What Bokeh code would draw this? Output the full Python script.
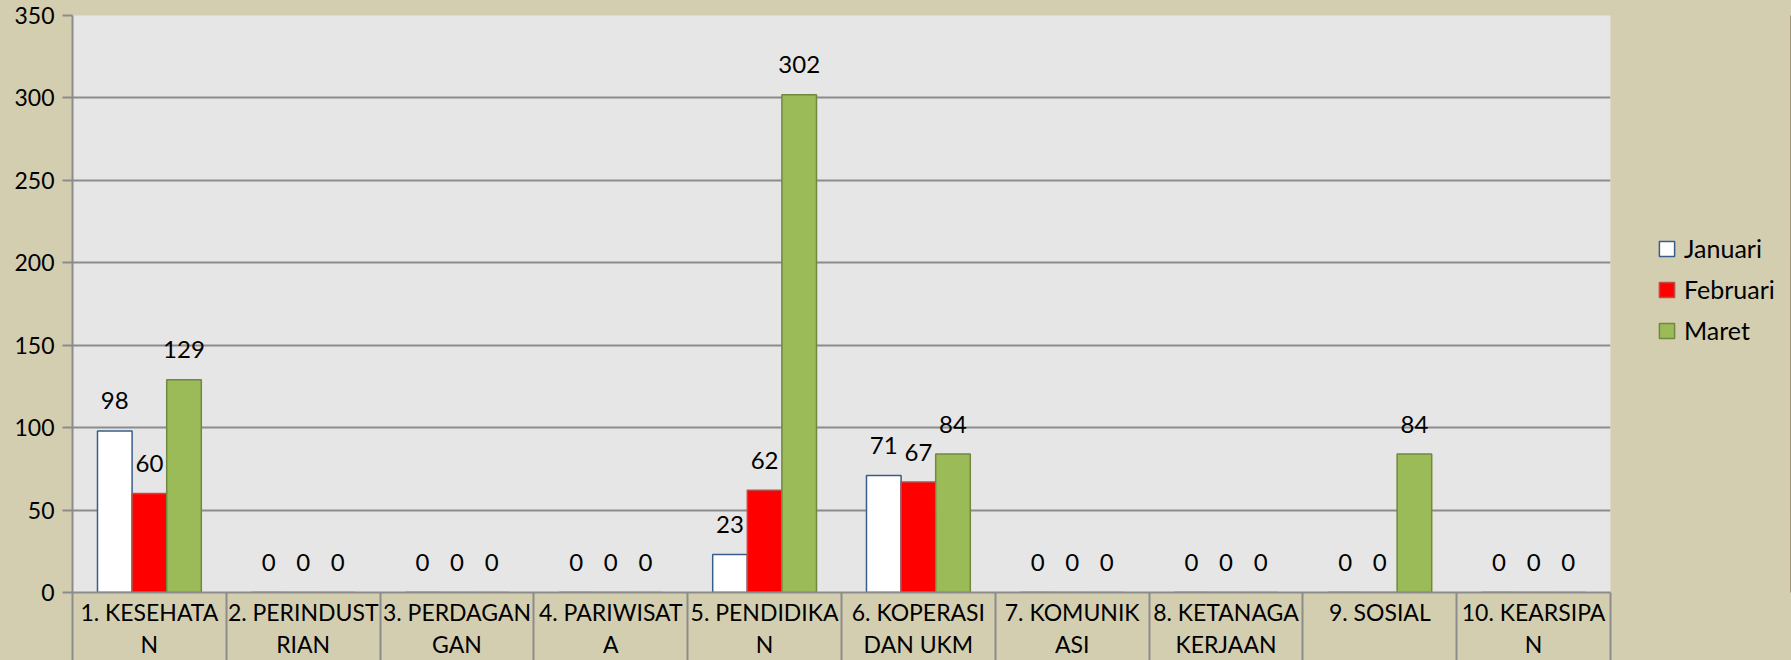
from bokeh.plotting import figure
from bokeh.models import FixedTicker, Legend, LegendItem, Range1d, ColumnDataSource
from bokeh.layouts import row
from bokeh.core.properties import value
from bokeh.embed import file_html
from bokeh.resources import INLINE

# ---- data ----
categories = ["1. KESEHATA\nN", "2. PERINDUST\nRIAN", "3. PERDAGAN\nGAN", "4. PARIWISAT\nA",
              "5. PENDIDIKA\nN", "6. KOPERASI\nDAN UKM", "7. KOMUNIK\nASI", "8. KETANAGA\nKERJAAN",
              "9. SOSIAL", "10. KEARSIPA\nN"]
series_names = ["Januari", "Februari", "Maret"]
januari = [98, 0, 0, 0, 23, 71, 0, 0, 0, 0]
februari = [60, 0, 0, 0, 62, 67, 0, 0, 0, 0]
maret = [129, 0, 0, 0, 302, 84, 0, 0, 84, 0]
y_ticks = [0, 50, 100, 150, 200, 250, 300, 350]

FONT = "Lato"
TAN = "#d4ceb1"
GRID = "#8c8c8c"

p = figure(width=1612, height=660, output_backend="svg", toolbar_location=None,
           x_range=Range1d(0, len(categories)), y_range=Range1d(0, 350),
           min_border_left=72, min_border_top=15, min_border_right=2, min_border_bottom=68)
p.background_fill_color = "#e6e6e6"
p.border_fill_color = TAN
p.outline_line_color = None

n = len(categories)
centers = [i + 0.5 for i in range(n)]
bw = 0.225
offsets = [-bw, 0.0, bw]
fills = ["#ffffff", "#ff0000", "#9bbb59"]
lines = ["#385d8a", "#be4b48", "#71893f"]
series = [januari, februari, maret]

for vals, off, fc, lc in zip(series, offsets, fills, lines):
    src = ColumnDataSource(dict(x=[c + off for c in centers], top=vals,
                                lab=[str(v) for v in vals]))
    p.vbar(x="x", top="top", bottom=0, width=bw, source=src,
           fill_color=fc, line_color=lc, line_width=1.5)
    p.text(x="x", y="top", text="lab", source=src, y_offset=-30,
           text_align="center", text_baseline="middle",
           text_font=value(FONT), text_font_size="24px", text_color="#000000")

# y axis
p.yaxis.ticker = FixedTicker(ticks=y_ticks)
p.yaxis.axis_line_color = GRID
p.yaxis.axis_line_width = 2
p.yaxis.major_tick_line_color = GRID
p.yaxis.major_tick_line_width = 2
p.yaxis.major_tick_out = 10
p.yaxis.major_tick_in = 0
p.yaxis.minor_tick_line_color = None
p.yaxis.major_label_text_font = FONT
p.yaxis.major_label_text_font_size = "23px"
p.yaxis.major_label_text_color = "#000000"
p.yaxis.major_label_standoff = 8

p.ygrid.grid_line_color = GRID
p.ygrid.grid_line_width = 2
p.xgrid.grid_line_color = None

# x axis: labels at centers, separators as minor ticks at category boundaries
p.xaxis.ticker = FixedTicker(ticks=centers, minor_ticks=list(range(n + 1)))
p.xaxis.major_label_overrides = {c: lab for c, lab in zip(centers, categories)}
p.xaxis.axis_line_color = GRID
p.xaxis.axis_line_width = 2
p.xaxis.major_tick_line_color = None
p.xaxis.major_tick_out = 0
p.xaxis.major_tick_in = 0
p.xaxis.minor_tick_line_color = GRID
p.xaxis.minor_tick_line_width = 2
p.xaxis.minor_tick_out = 68
p.xaxis.minor_tick_in = 0
p.xaxis.major_label_standoff = -63
p.xaxis.major_label_text_font = FONT
p.xaxis.major_label_text_font_size = "23px"
p.xaxis.major_label_text_line_height = 1.15
p.xaxis.major_label_text_color = "#000000"

# legend panel (separate figure to the right of the chart)
lg = figure(width=179, height=660, output_backend="svg", toolbar_location=None,
            x_range=Range1d(0, 1), y_range=Range1d(0, 1),
            x_axis_location=None, y_axis_location=None, min_border=0)
lg.background_fill_color = TAN
lg.border_fill_color = TAN
lg.outline_line_color = None
lg.grid.grid_line_color = None
proxies = []
for fc, lc in zip(fills, lines):
    # legend proxies, positioned outside the visible range
    proxies.append(lg.vbar(x=[5], top=[1], width=0.1, fill_color=fc, line_color=lc, line_width=1.5))

legend = Legend(items=[LegendItem(label=nm, renderers=[r]) for nm, r in zip(series_names, proxies)],
                location=(45, 247), glyph_width=19, glyph_height=19, label_height=24,
                spacing=11, padding=0, margin=0, border_line_color=None,
                background_fill_alpha=0, label_text_font=FONT, label_text_font_size="25px",
                label_standoff=8, label_text_color="#000000")
lg.add_layout(legend)

layout = row(p, lg)
html = file_html(layout, INLINE)
html = html.replace("</head>", "<style>html, body { background: %s !important; }</style></head>" % TAN, 1)
open("out.html", "w").write(html)
